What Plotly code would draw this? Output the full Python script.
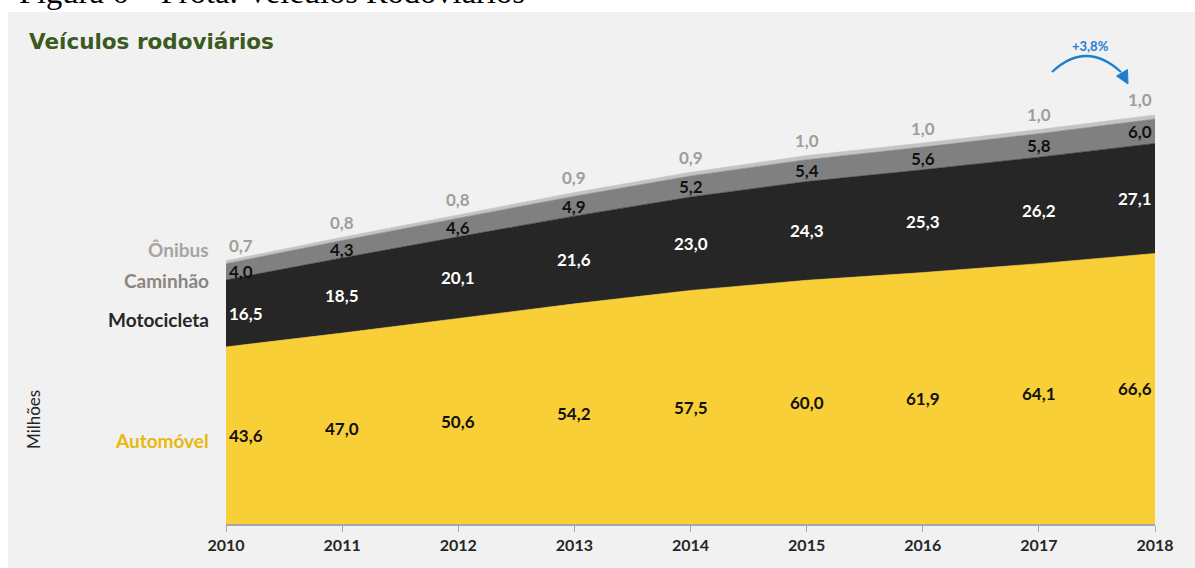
import plotly.graph_objects as go

# Frota de veículos rodoviários (milhões)
anos = [2010, 2011, 2012, 2013, 2014, 2015, 2016, 2017, 2018]
automovel = [43.6, 47.0, 50.6, 54.2, 57.5, 60.0, 61.9, 64.1, 66.6]
motocicleta = [16.5, 18.5, 20.1, 21.6, 23.0, 24.3, 25.3, 26.2, 27.1]
caminhao = [4.0, 4.3, 4.6, 4.9, 5.2, 5.4, 5.6, 5.8, 6.0]
onibus = [0.7, 0.8, 0.8, 0.9, 0.9, 1.0, 1.0, 1.0, 1.0]

serie_nomes = ["Automóvel", "Motocicleta", "Caminhão", "Ônibus"]
serie_valores = [automovel, motocicleta, caminhao, onibus]
cores_area = ["#f8cf37", "#262626", "#808080", "#c4c4c4"]
cores_rotulo = ["#111111", "#ffffff", "#111111", "#a39d97"]
cores_nome = ["#e8b80f", "#262626", "#8a8580", "#a8a4a0"]

variacao = "+3,8%"

W_FIG, H_FIG = 1195, 568
M_L, M_R, M_T, M_B = 226, 40, 76, 44
PW = W_FIG - M_L - M_R
PH = H_FIG - M_T - M_B
Y_MAX = 110.3


def px_x(px):
    return (px - M_L) / PW


def px_y(py):
    return (H_FIG - M_B - py) / PH


def fmt(v):
    return f"{v:.1f}".replace(".", ",")


fig = go.Figure()

for nome, vals, cor in zip(serie_nomes, serie_valores, cores_area):
    fig.add_trace(go.Scatter(
        x=anos, y=vals, name=nome, stackgroup="frota",
        mode="lines", line=dict(width=0.6, color=cor),
        fillcolor=cor, hoverinfo="skip",
    ))

annotations = []
FONT = "Lato"

# value labels: first three series centred inside their band, Ônibus above the top
base = [0.0] * len(anos)
for k, (vals, cor) in enumerate(zip(serie_valores, cores_rotulo)):
    for i, ano in enumerate(anos):
        if i == 0:
            xanchor, xshift = "left", 1
        elif i == len(anos) - 1:
            xanchor, xshift = "right", -1
        else:
            xanchor, xshift = "center", 0
        if k < 3:
            y = base[i] + vals[i] / 2
            yshift = 0
        else:
            y = base[i] + vals[i]
            yshift = 15
        annotations.append(dict(
            x=ano, y=y, xref="x", yref="y", text=f"<b>{fmt(vals[i])}</b>",
            showarrow=False, xanchor=xanchor, yanchor="middle",
            xshift=xshift, yshift=yshift,
            font=dict(family=FONT, size=17, color=cor),
        ))
    base = [b + v for b, v in zip(base, vals)]

# series names on the left
nome_py = [440, 319, 280, 250]
for nome, cor, py in zip(serie_nomes, cores_nome, nome_py):
    annotations.append(dict(
        x=px_x(211), y=px_y(py), xref="paper", yref="paper",
        text=f"<b>{nome}</b>", showarrow=False, xanchor="right", yanchor="middle",
        font=dict(family=FONT, size=19, color=cor),
    ))

annotations += [
    dict(x=px_x(33), y=px_y(420), xref="paper", yref="paper", text="Milhões",
         textangle=-90, showarrow=False, xanchor="center", yanchor="middle",
         font=dict(family=FONT, size=17, color="#262626")),
    dict(x=px_x(27), y=px_y(42), xref="paper", yref="paper",
         text="<b>Veículos rodoviários</b>", showarrow=False,
         xanchor="left", yanchor="middle",
         font=dict(family="DejaVu Sans", size=21.5, color="#3b5a20")),
    dict(x=px_x(1090), y=px_y(46), xref="paper", yref="paper",
         text=f"<b>{variacao}</b>", showarrow=False,
         xanchor="center", yanchor="middle",
         font=dict(family=FONT, size=13, color="#1f7fcf")),
    dict(x=px_x(17), y=px_y(-8), xref="paper", yref="paper",
         text="Figura 6 – Frota: Veículos Rodoviários", showarrow=False,
         xanchor="left", yanchor="middle",
         font=dict(family="Liberation Serif", size=32.5, color="#000000")),
]

shapes = [
    # white page strips around the grey panel
    dict(type="rect", xref="paper", yref="paper", layer="below",
         x0=px_x(0), x1=px_x(W_FIG), y0=px_y(12), y1=px_y(0),
         fillcolor="#ffffff", line=dict(width=0)),
    dict(type="rect", xref="paper", yref="paper", layer="below",
         x0=px_x(0), x1=px_x(8), y0=px_y(H_FIG), y1=px_y(0),
         fillcolor="#ffffff", line=dict(width=0)),
    # curved growth arrow
    dict(type="path", xref="paper", yref="paper",
         path=(f"M {px_x(1052)},{px_y(72)} "
               f"Q {px_x(1086)},{px_y(40)} {px_x(1121)},{px_y(72)}"),
         line=dict(color="#1f7fcf", width=2.2)),
    dict(type="path", xref="paper", yref="paper",
         path=(f"M {px_x(1128)},{px_y(84)} L {px_x(1116.5)},{px_y(76)} "
               f"L {px_x(1127.5)},{px_y(69.5)} Z"),
         fillcolor="#1f7fcf", line=dict(color="#1f7fcf", width=1)),
]

fig.update_layout(
    width=W_FIG, height=H_FIG,
    margin=dict(l=M_L, r=M_R, t=M_T, b=M_B),
    paper_bgcolor="#f1f1f1", plot_bgcolor="rgba(0,0,0,0)",
    showlegend=False,
    annotations=annotations, shapes=shapes,
    xaxis=dict(range=[anos[0], anos[-1]], tickvals=anos,
               ticktext=[f"<b>{a}</b>" for a in anos],
               tickfont=dict(family=FONT, size=16, color="#262626"),
               ticks="outside", ticklen=6, tickcolor="#a6a6a6",
               showline=True, linecolor="#a6a6a6", linewidth=1.5,
               showgrid=False, zeroline=False, fixedrange=True),
    yaxis=dict(range=[0, Y_MAX], visible=False, fixedrange=True),
)

fig.write_html("out.html")
